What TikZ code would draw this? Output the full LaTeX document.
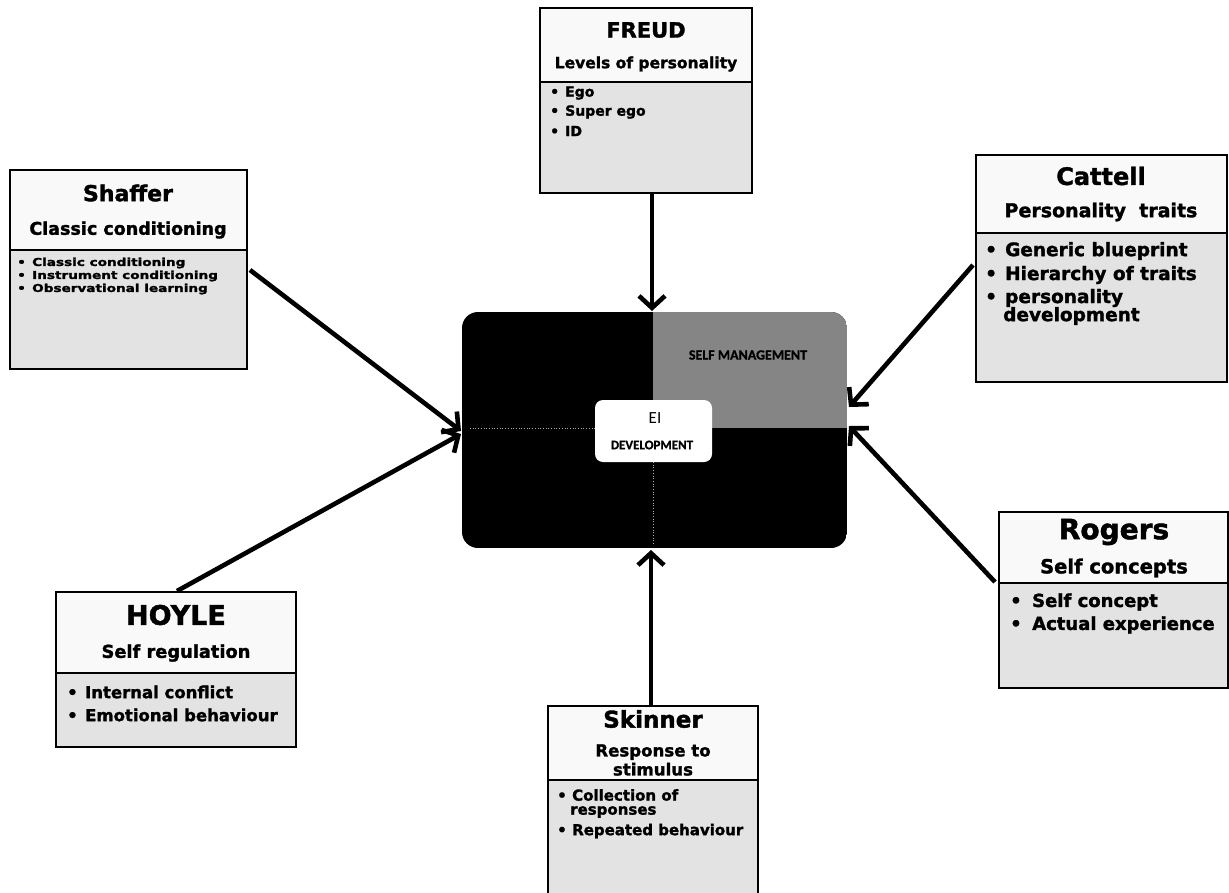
\documentclass[tikz,border=0pt]{standalone}
\usepackage{fontspec}
\usetikzlibrary{arrows.meta}
\newfontfamily\heavy{DejaVu Sans}[BoldFeatures={FakeBold=1.6}]
\newfontfamily\calib{Carlito}[BoldFeatures={FakeBold=1.2}]
\newcommand\hv[2]{\heavy\bfseries\fontsize{#1}{#2}\selectfont}
\newcommand\cb[2]{\calib\fontsize{#1}{#2}\selectfont}
\definecolor{headfill}{gray}{0.975}
\definecolor{bodyfill}{gray}{0.89}
\definecolor{quadgray}{gray}{0.52}
\tikzset{
  panelframe/.style={draw=black, line width=1.6pt, inner sep=0pt, outer sep=0pt, anchor=north west},
  panelrule/.style={line width=1.6pt},
  ttl/.style={inner sep=0pt, font={\hv{#1}{#1}}},
  sub/.style={inner sep=0pt, align=center, font={\hv{#1}{#1}}},
  item/.style={inner sep=0pt, anchor=west, font={\hv{#1}{#1}}},
  feed/.style={line width=4.6pt, -{Straight Barb[length=12pt, width=26pt]}},
  quadrule/.style={gray!70, dotted, line width=0.7pt}
}
\begin{document}
\begin{tikzpicture}[x=1pt, y=-1pt]
\useasboundingbox (0,0) rectangle (1229,892);
\fill[white] (0,0) rectangle (1229,892);

% ---------- centre block: four quadrants ----------
\begin{scope}
  \clip[rounded corners=16pt] (462,312) rectangle (847,548);
  \fill[black] (462,312) rectangle (847,548);
  \fill[quadgray] (653,312) rectangle (847,428);
\end{scope}
\node[inner sep=0pt, minimum width=385, minimum height=236, anchor=north west] (core) at (462,312) {};
\draw[quadrule] (470,428) -- (595,428);
\draw[quadrule] (653,462) -- (653,545);
\node[inner sep=0pt, font={\calib\bfseries\fontsize{14}{14}\selectfont}] (selfman) at (748,355) {SELF MANAGEMENT};
\node[fill=white, rounded corners=8pt, minimum width=117, minimum height=62, inner sep=0pt] (ei) at (653.5,431) {};
\node[inner sep=0pt, font={\cb{17}{17}}] (eit) at (655,418) {EI};
\node[inner sep=0pt, font={\calib\bfseries\fontsize{13}{13}\selectfont}] (eid) at (652,445) {DEVELOPMENT};

% ---------- FREUD ----------
\fill[headfill] (540,8) rectangle (752,82);
\fill[bodyfill] (540,82) rectangle (752,193);
\node[panelframe, minimum width=212, minimum height=185] (freud) at (540,8) {};
\draw[panelrule] (540,82) -- (752,82);
\node[ttl=21] (freudT) at (646,30) {FREUD};
\node[sub=15.5] (freudS) at (646,64) {Levels of personality};
\node[item=14] (freud1) at (550,93) {\makebox[15pt][l]{•}Ego};
\node[item=14] (freud2) at (550,112) {\makebox[15pt][l]{•}Super ego};
\node[item=14] (freud3) at (550,131) {\makebox[15pt][l]{•}ID};

% ---------- Shaffer ----------
\fill[headfill] (10,170) rectangle (247,250);
\fill[bodyfill] (10,250) rectangle (247,369);
\node[panelframe, minimum width=237, minimum height=199] (shaffer) at (10,170) {};
\draw[panelrule] (10,250) -- (247,250);
\node[ttl=22] (shafferT) at (128,193) {Shaffer};
\node[sub=17.5] (shafferS) at (128,230) {Classic conditioning};
\node[item=13.6] (shaffer1) at (17,263) {\scalebox{1}[0.8]{\makebox[15pt][l]{•}Classic conditioning}};
\node[item=13.6] (shaffer2) at (17,276) {\scalebox{1}[0.8]{\makebox[15pt][l]{•}Instrument conditioning}};
\node[item=13.6] (shaffer3) at (17,289) {\scalebox{1}[0.8]{\makebox[15pt][l]{•}Observational learning}};

% ---------- Cattell ----------
\fill[headfill] (976,155) rectangle (1227,233);
\fill[bodyfill] (976,233) rectangle (1227,382);
\node[panelframe, minimum width=251, minimum height=227] (cattell) at (976,155) {};
\draw[panelrule] (976,233) -- (1227,233);
\node[ttl=24] (cattellT) at (1101,176) {Cattell};
\node[sub=19] (cattellS) at (1101,212) {Personality\ \ traits};
\node[item=18.5] (cattell1) at (985,251) {\makebox[20pt][l]{•}Generic blueprint};
\node[item=18.5] (cattell2) at (985,275) {\makebox[20pt][l]{•}Hierarchy of traits};
\node[item=18.5] (cattell3) at (985,298) {\makebox[20pt][l]{•}personality};
\node[item=18.5] (cattell4) at (1003,316) {development};

% ---------- Rogers ----------
\fill[headfill] (999,512) rectangle (1228,583);
\fill[bodyfill] (999,583) rectangle (1228,688);
\node[panelframe, minimum width=229, minimum height=176] (rogers) at (999,512) {};
\draw[panelrule] (999,583) -- (1228,583);
\node[ttl=28] (rogersT) at (1114,532) {Rogers};
\node[sub=19.5] (rogersS) at (1114,568) {Self concepts};
\node[item=18] (rogers1) at (1010,602) {\makebox[22pt][l]{•}Self concept};
\node[item=18] (rogers2) at (1010,625) {\makebox[22pt][l]{•}Actual experience};

% ---------- HOYLE ----------
\fill[headfill] (56,592) rectangle (296,673);
\fill[bodyfill] (56,673) rectangle (296,747);
\node[panelframe, minimum width=240, minimum height=155] (hoyle) at (56,592) {};
\draw[panelrule] (56,673) -- (296,673);
\node[ttl=27] (hoyleT) at (176,615) {HOYLE};
\node[sub=17.8] (hoyleS) at (176,653) {Self regulation};
\node[item=16.5] (hoyle1) at (67,692) {\makebox[18pt][l]{•}Internal conflict};
\node[item=16.5] (hoyle2) at (67,715) {\makebox[18pt][l]{•}Emotional behaviour};

% ---------- Skinner ----------
\fill[headfill] (548,706) rectangle (758,780);
\fill[bodyfill] (548,780) rectangle (758,900);
\node[panelframe, minimum width=210, minimum height=190] (skinner) at (548,706) {};
\draw[panelrule] (548,780) -- (758,780);
\node[ttl=23] (skinnerT) at (653,719) {Skinner};
\node[sub=16.6, font={\hv{16.6}{19}}] (skinnerS) at (653,760) {Response to\\stimulus};
\node[item=15] (skinner1) at (557,795) {\makebox[15pt][l]{•}Collection of};
\node[item=15] (skinner2) at (570,812) {responses};
\node[item=15] (skinner3) at (557,831) {\makebox[15pt][l]{•}Repeated behaviour};

% ---------- feeds into the centre ----------
\coordinate (freudOut) at (652,193);
\coordinate (freudIn) at (652,311);
\coordinate (shafferOut) at (250,270);
\coordinate (shafferIn) at (461,431);
\coordinate (hoyleOut) at (177,591);
\coordinate (hoyleIn) at (461,434);
\coordinate (cattellOut) at (973,265);
\coordinate (cattellIn) at (849,407);
\coordinate (rogersOut) at (995,582);
\coordinate (rogersIn) at (849,426);
\coordinate (skinnerOut) at (651,705);
\coordinate (skinnerIn) at (651,550);

\draw[feed] (freudOut) -- (freudIn);
\draw[feed] (shafferOut) -- (shafferIn);
\draw[feed] (hoyleOut) -- (hoyleIn);
\draw[feed] (cattellOut) -- (cattellIn);
\draw[feed] (rogersOut) -- (rogersIn);
\draw[feed] (skinnerOut) -- (skinnerIn);
\end{tikzpicture}
\end{document}
